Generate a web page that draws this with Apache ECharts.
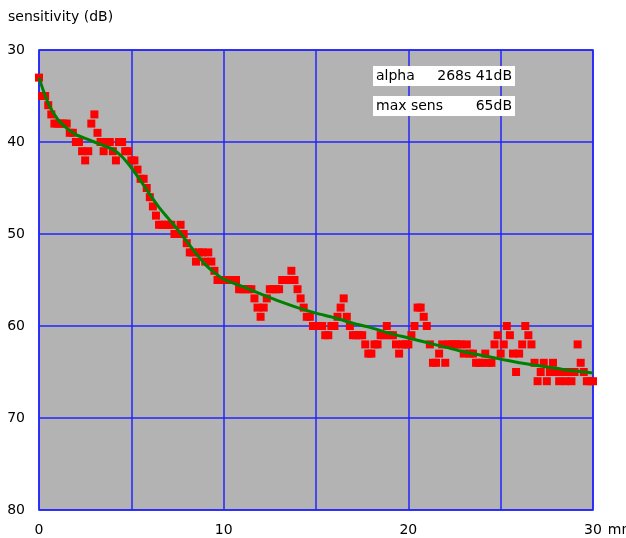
<!DOCTYPE html>
<html>
<head>
<meta charset="utf-8">
<script src="https://cdn.jsdelivr.net/npm/echarts@6/dist/echarts.min.js"></script>
<style>
	html, body {margin: 0; padding: 0; background: #fff;}
	#chart {width: 626px; height: 538px;}
</style>
</head>
<body>
<div id="chart"></div>
<script>
// one reading every 10 s, in minutes
const sampleStep = 1 / 6;

// measured sensitivity (dB), one value per sample
const sensitivity = [
	33, 35, 35, 36, 37, 38, 38, 38, 38, 38, 39, 39, 40, 40, 41, 42, 41, 38, 37, 39,
	40, 41, 40, 40, 41, 42, 40, 40, 41, 41, 42,
	42, 43, 44, 44, 45, 46, 47, 48, 49, 49, 49, 49, 49, 50, 50, 49, 50, 51, 52, 52,
	53, 52, 52, 53, 52, 53, 54, 55, 55, 55,
	55, 55, 55, 55, 56, 56, 56, 56, 56, 57, 58, 59, 58, 57, 56, 56, 56, 56, 55, 55,
	55, 54, 55, 56, 57, 58, 59, 59, 60, 60,
	60, 60, 61, 61, 60, 60, 59, 58, 57, 59, 60, 61, 61, 61, 61, 62, 63, 63, 62, 62,
	61, 61, 60, 61, 61, 62, 63, 62, 62, 62,
	61, 60, 58, 58, 59, 60, 62, 64, 64, 63, 62, 64, 62, 62, 62, 62, 62, 63, 62, 63,
	63, 64, 64, 64, 63, 64, 64, 62, 61, 63,
	62, 60, 61, 63, 65, 63, 62, 60, 61, 62, 64, 66, 65, 64, 66, 65, 64, 65, 66, 65,
	66, 65, 66, 65, 62, 64, 65, 66, 66, 66,
];

// fitted curve
const fitTime = [
	0, 0.5, 1, 1.5, 2, 2.5, 3, 3.5, 4, 4.5, 5, 5.5, 6, 6.5, 7, 7.5, 8, 8.5, 9, 9.5,
	10, 11, 12, 13, 14, 15, 16, 17, 18, 19, 20, 21, 22, 23, 24, 25, 26, 27, 28, 29, 30,
];
const fitValue = [
	33, 35.8, 37.5, 38.5, 39.2, 39.6, 40, 40.4, 40.8, 41.6, 42.8, 44.2, 45.7, 47.1, 48.3, 49.5, 50.8, 52.1, 53.3, 54.2,
	54.9, 55.7, 56.5, 57.3, 58, 58.6, 59.1, 59.7, 60.2, 60.8, 61.3, 61.8, 62.3, 62.8, 63.2, 63.6, 64, 64.3, 64.6, 64.9, 65.1,
];

const xLabels = [0, 10, 20, 30];
const infoLabels = ['alpha', 'max sens'];
const infoValues = ['268s 41dB', '65dB'];

const font = 'DejaVu Sans';
const blue = '#2323ff';

const points = sensitivity.map((v, i) => [i * sampleStep, v]);
const fit = fitTime.map((t, i) => [t, fitValue[i]]);

function infoBox(i) {
	const txt = {fontFamily: font, fontSize: 14, fontWeight: 'normal', color: '#000', lineHeight: 16};
	return {
		text: '{a|' + infoLabels[i] + '}{b|' + infoValues[i] + '}',
		left: 373,
		top: 65 + i * 30,
		padding: [3, 3, 3, 3],
		backgroundColor: '#fff',
		textStyle: {
			fontWeight: 'normal',
			rich: {
				a: Object.assign({width: 62, align: 'left'}, txt),
				b: Object.assign({width: 74, align: 'right'}, txt),
			},
		},
	};
}

const chart = echarts.init(document.getElementById('chart'));
chart.setOption({
	animation: false,
	textStyle: {fontFamily: font},
	title: [
		{
			text: 'sensitivity (dB)',
			left: 8,
			top: 10,
			padding: 0,
			textStyle: {fontFamily: font, fontSize: 14, fontWeight: 'normal', color: '#000'},
		},
		infoBox(0),
		infoBox(1),
	],
	grid: {
		show: true,
		left: 39,
		right: 33,
		top: 50,
		bottom: 28,
		backgroundColor: '#b3b3b3',
		borderColor: blue,
		borderWidth: 1.5,
		outerBoundsMode: 'none',
	},
	xAxis: {
		type: 'value',
		min: 0,
		max: 30,
		interval: 5,
		name: 'mn',
		nameLocation: 'end',
		nameGap: 10,
		nameTextStyle: {fontSize: 14, color: '#000', verticalAlign: 'top', padding: [13, 0, 0, 0]},
		axisLine: {show: false},
		axisTick: {show: false},
		axisLabel: {
			margin: 13,
			fontSize: 14,
			color: '#000',
			formatter: v => (xLabels.indexOf(v) >= 0 ? String(v) : ''),
		},
		splitLine: {show: true, lineStyle: {color: blue, width: 1.5}},
	},
	yAxis: {
		type: 'value',
		inverse: true,
		min: 30,
		max: 80,
		interval: 10,
		axisLine: {show: false},
		axisTick: {show: false},
		axisLabel: {margin: 14, fontSize: 14, color: '#000'},
		splitLine: {show: true, lineStyle: {color: blue, width: 1.5}},
	},
	series: [
		{
			type: 'scatter',
			data: points,
			symbol: 'rect',
			symbolSize: 8,
			itemStyle: {color: '#ff0000', opacity: 1},
			z: 2,
		},
		{
			type: 'line',
			data: fit,
			smooth: 0.3,
			showSymbol: false,
			lineStyle: {color: '#008000', width: 3},
			z: 3,
		},
	],
});
</script>
</body>
</html>
